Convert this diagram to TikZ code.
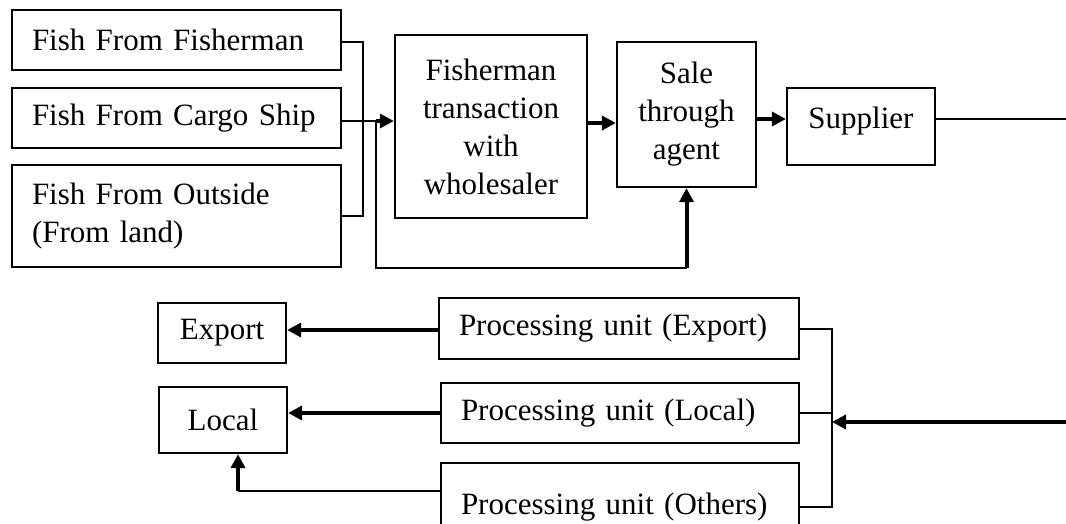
\documentclass[tikz,border=0pt]{standalone}
\usepackage{fontspec}
\setmainfont{Liberation Serif}
\usetikzlibrary{arrows.meta}
\tikzset{
  box/.style={draw=black, line width=2.2pt, fill=white, inner sep=0pt,
    font=\fontsize{31}{38}\selectfont},
  lbox/.style={box, align=left, inner xsep=20pt},
  cbox/.style={box, align=center},
  conn/.style={line width=2.2pt, draw=black},
  thk/.style={line width=4pt, draw=black, -{Triangle[length=14pt,width=14pt]}},
}
\begin{document}
\begin{tikzpicture}[x=1pt,y=-1pt]
\useasboundingbox (0,0) rectangle (1066,523);
% top row
\node[lbox, text width=289pt, minimum height=60pt] (f1) at (176.5,40) {Fish From Fisherman};
\node[lbox, text width=289pt, minimum height=60pt] (f2) at (176.5,118) {Fish From Cargo Ship};
\node[lbox, text width=289pt, minimum height=102pt] (f3) at (176.5,216) {Fish From Outside\\(From land)};
\node[cbox, minimum width=192pt, minimum height=183pt] (ft) at (491,126.5) {Fisherman\\transaction\\with\\wholesaler};
\node[cbox, minimum width=139pt, minimum height=145pt] (sale) at (686.5,114.5) {Sale\\through\\agent};
\node[box, minimum width=148pt, text height=40pt, text depth=37pt, inner ysep=0pt] (sup) at (861,126.5) {Supplier};
% bottom rows
\node[lbox, text width=320pt, minimum height=61pt] (pe) at (619,328.5) {Processing unit (Export)};
\node[lbox, text width=318pt, minimum height=60pt] (pl) at (620,413) {Processing unit (Local)};
\node[lbox, text width=318pt, minimum height=88pt] (po) at (620,507) {Processing unit (Others)};
\node[cbox, minimum width=128pt, minimum height=60pt] (ex) at (222,333) {Export};
\node[cbox, minimum width=128pt, minimum height=66pt] (lo) at (223,420) {Local};
% helper coordinates
\coordinate (bx) at (363,0);
\coordinate (y121) at (0,121);
\coordinate (low) at (0,268);
\coordinate (y123) at (0,123);
\coordinate (y119) at (0,119);
\coordinate (R1) at (1066,119);
\coordinate (R2) at (1066,422);
\coordinate (bx2) at (832,0);
\coordinate (ya) at (0,329);
\coordinate (yb) at (0,413);
\coordinate (yc) at (0,507);
\coordinate (y330) at (0,330);
\coordinate (y491) at (0,491);
\coordinate (xl) at (238,0);
% top connectors
\draw[conn] (f1.east |- 0,42) -| (bx |- f3.east) -- (f3.east);
\draw[conn] (f2.east |- y121) -- ++(34,0) coordinate (s1);
\draw[thk] (s1) -- (ft.west |- y121);
\draw[conn] (s1) |- (low -| sale.south) coordinate (c2);
\draw[thk] (c2) -- (sale.south);
\draw[thk] (ft.east |- y123) -- (sale.west |- y123);
\draw[thk] (sale.east |- y119) -- (sup.west |- y119);
\draw[conn] (sup.east |- R1) -- (R1);
% bottom connectors
\draw[thk] (R2) -- (bx2 |- R2);
\draw[conn] (pe.east |- ya) -- (bx2 |- ya) -- (bx2 |- yc) -- (po.east |- yc);
\draw[conn] (pl.east |- yb) -- (bx2 |- yb);
\draw[thk] (pe.west |- y330) -- (ex.east |- y330);
\draw[thk] (pl.west |- yb) -- (lo.east |- yb);
\draw[conn] (po.west |- y491) -- (xl |- y491);
\draw[thk] (xl |- y491) -- (xl |- lo.south);
\end{tikzpicture}
\end{document}
